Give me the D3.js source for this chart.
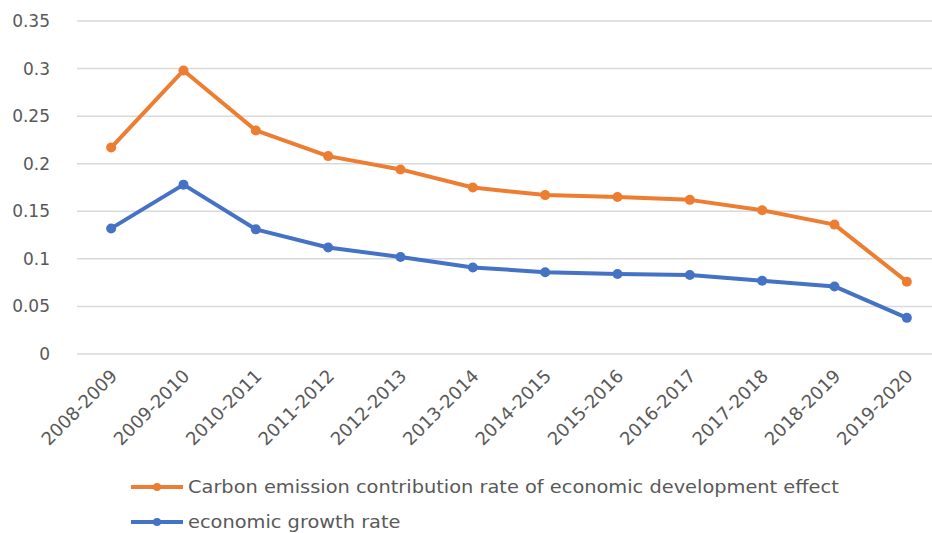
<!DOCTYPE html>
<html>
<head>
<meta charset="utf-8">
<script src="https://cdn.jsdelivr.net/npm/d3@7"></script>
<style>
  body { margin: 0; background: #fff; }
  text { font-family: "DejaVu Sans", sans-serif; fill: #595959; }
</style>
</head>
<body>
<svg id="chart" width="932" height="533"></svg>
<script>
// periodi
var periods = ["2008-2009", "2009-2010", "2010-2011", "2011-2012", "2012-2013", "2013-2014",
               "2014-2015", "2015-2016", "2016-2017", "2017-2018", "2018-2019", "2019-2020"];
// serie
var carbonRate = [0.217, 0.298, 0.235, 0.208, 0.194, 0.175, 0.167, 0.165, 0.162, 0.151, 0.136, 0.076];
var growthRate = [0.132, 0.178, 0.131, 0.112, 0.102, 0.091, 0.086, 0.084, 0.083, 0.077, 0.071, 0.038];
var yTicks = [0, 0.05, 0.1, 0.15, 0.2, 0.25, 0.3, 0.35];
var seriesNames = ["Carbon emission contribution rate of economic development effect", "economic growth rate"];
var seriesColors = ["#ED7D31", "#4472C4"];

var svg = d3.select("#chart");

var x = d3.scaleBand()
    .domain(periods)
    .range([75, 943]);

var y = d3.scaleLinear()
    .domain([0, 0.35])
    .range([354, 21]);

// griglia
svg.append("g")
    .selectAll("line")
    .data(yTicks)
    .enter()
    .append("line")
    .attr("x1", 77)
    .attr("x2", 932)
    .attr("y1", function (d) { return y(d); })
    .attr("y2", function (d) { return y(d); })
    .attr("stroke", "#d9d9d9")
    .attr("stroke-width", 1.5);

// asse y
var yAxis = svg.append("g")
    .attr("transform", "translate(53,0)")
    .call(d3.axisLeft(y).tickValues(yTicks).tickSize(0).tickFormat(function (d) { return d; }));
yAxis.select(".domain").remove();
yAxis.selectAll("text").attr("font-size", "17px").attr("dx", 0);

// asse x
var xAxis = svg.append("g")
    .attr("transform", "translate(0,354)")
    .call(d3.axisBottom(x).tickSize(0));
xAxis.select(".domain").remove();
xAxis.selectAll("text")
    .attr("font-size", "18px")
    .attr("text-anchor", "end")
    .attr("dx", 0)
    .attr("dy", 0)
    .attr("transform", "translate(5,21) rotate(-45)");

var data = [carbonRate, growthRate];

var line = d3.line()
    .x(function (d, i) { return x(periods[i]) + x.bandwidth() / 2; })
    .y(function (d) { return y(d); });

data.forEach(function (serie, k) {
    svg.append("path")
        .datum(serie)
        .attr("fill", "none")
        .attr("stroke", seriesColors[k])
        .attr("stroke-width", 4)
        .attr("stroke-linejoin", "round")
        .attr("d", line);

    svg.append("g")
        .selectAll("circle")
        .data(serie)
        .enter()
        .append("circle")
        .attr("cx", function (d, i) { return x(periods[i]) + x.bandwidth() / 2; })
        .attr("cy", function (d) { return y(d); })
        .attr("r", 5)
        .attr("fill", seriesColors[k]);
});

// leggenda
var legend = svg.append("g")
    .selectAll("g")
    .data(seriesNames)
    .enter()
    .append("g")
    .attr("transform", function (d, i) { return "translate(131," + (487 + i * 35) + ")"; });

legend.append("line")
    .attr("x1", 0).attr("x2", 52)
    .attr("stroke", function (d, i) { return seriesColors[i]; })
    .attr("stroke-width", 4);
legend.append("circle")
    .attr("cx", 26).attr("r", 4)
    .attr("fill", function (d, i) { return seriesColors[i]; });
legend.append("text")
    .attr("transform", "translate(57,0) scale(1.14,1)")
    .attr("dy", "0.35em")
    .attr("font-size", "17px")
    .text(function (d) { return d; });
</script>
</body>
</html>
